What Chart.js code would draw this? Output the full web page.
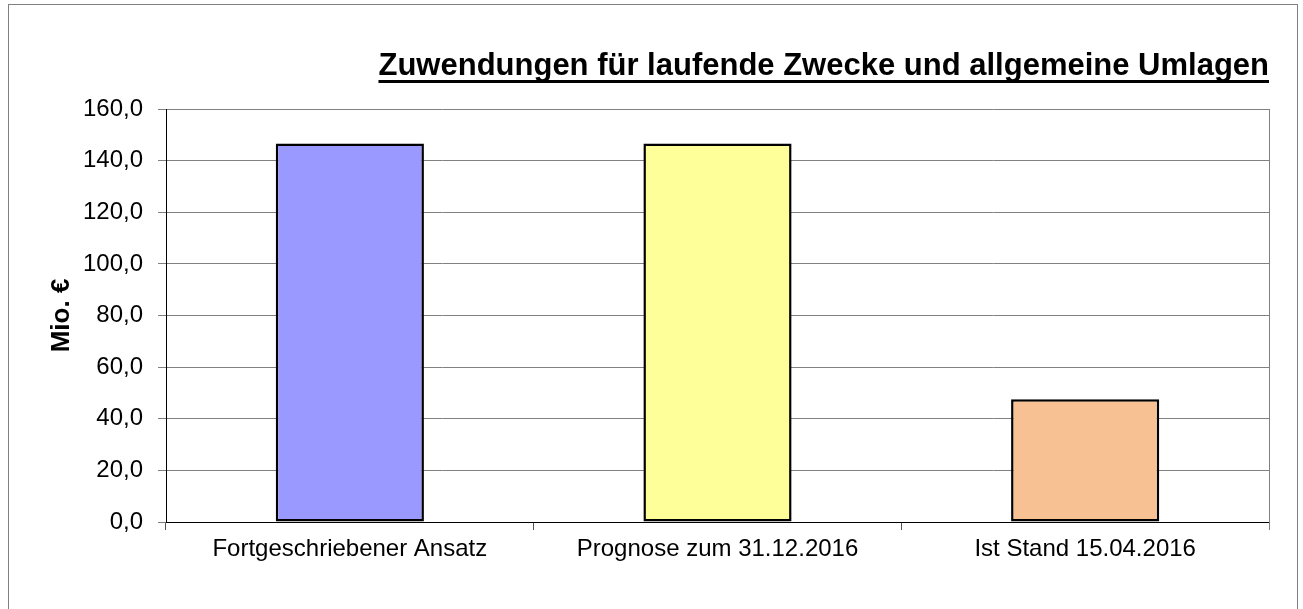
<!DOCTYPE html>
<html>
<head>
<meta charset="utf-8">
<script src="https://cdn.jsdelivr.net/npm/chart.js@4.4.0/dist/chart.umd.min.js"></script>
<style>
    body { margin: 0; background: #fff; }
    canvas { display: block; }
</style>
</head>
<body>
<canvas id="chartBar" width="1303" height="609"></canvas>
<script>
const categories = ['Fortgeschriebener Ansatz', 'Prognose zum 31.12.2016', 'Ist Stand 15.04.2016'];
const values = [146.6, 146.6, 47.6];
const barColors = ['#9999FF', '#FFFF99', '#F8C193'];
const titleText = 'Zuwendungen für laufende Zwecke und allgemeine Umlagen';
const axisTitle = 'Mio. €';

const fontFamily = '"Liberation Sans", Arial, sans-serif';

// Rahmen, rechte Linie der Zeichenfläche und Unterstreichung des Titels
const decorations = {
    id: 'decorations',
    beforeDraw(chart) {
        const ctx = chart.ctx;
        ctx.save();
        ctx.fillStyle = '#fff';
        ctx.fillRect(0, 0, chart.width, chart.height);
        ctx.strokeStyle = '#808080';
        ctx.lineWidth = 1;
        ctx.strokeRect(8.5, 4.5, 1289, 620);
        ctx.restore();
    },
    afterDraw(chart) {
        const ctx = chart.ctx;
        const area = chart.chartArea;
        ctx.save();
        ctx.strokeStyle = '#808080';
        ctx.lineWidth = 1;
        ctx.beginPath();
        ctx.moveTo(Math.round(area.right) + 0.5, area.top);
        ctx.lineTo(Math.round(area.right) + 0.5, area.bottom + 8);
        ctx.stroke();

        const t = chart.titleBlock;
        const f = chart.options.plugins.title.font;
        ctx.font = 'bold ' + f.size + 'px ' + fontFamily;
        const w = ctx.measureText(titleText).width;
        ctx.fillStyle = '#000';
        ctx.fillRect(t.right - w, 80, w, 3);
        ctx.restore();
    }
};

let chartBar = document.getElementById('chartBar');

let oChartBar = new Chart(chartBar, {
    type: 'bar',
    data: {
        labels: categories,
        datasets: [{
            data: values,
            backgroundColor: barColors,
            borderColor: '#000',
            borderWidth: 2.5,
            borderSkipped: false,
            barPercentage: 0.403,
            categoryPercentage: 1
        }]
    },
    options: {
        responsive: false,
        animation: false,
        layout: {
            padding: { left: 0, right: 34, top: 0, bottom: 0 }
        },
        plugins: {
            legend: { display: false },
            tooltip: { enabled: false },
            title: {
                display: true,
                text: titleText,
                align: 'end',
                color: '#000',
                font: { family: fontFamily, size: 31, weight: 'bold', lineHeight: 1.2 },
                padding: { top: 48, bottom: 23.8 }
            }
        },
        scales: {
            x: {
                afterFit(scale) { scale.height = 87; },
                grid: {
                    display: true,
                    offset: true,
                    drawOnChartArea: false,
                    drawTicks: true,
                    tickLength: 8,
                    color: '#555'
                },
                border: { color: '#000', width: 1 },
                ticks: {
                    color: '#000',
                    padding: 5,
                    font: { family: fontFamily, size: 24 },
                    maxRotation: 0
                }
            },
            y: {
                min: 0,
                max: 160,
                afterFit(scale) { scale.width = 166; },
                grid: {
                    color: '#808080',
                    lineWidth: 1,
                    tickLength: 8
                },
                border: { color: '#000', width: 1 },
                ticks: {
                    stepSize: 20,
                    color: '#000',
                    padding: 15,
                    font: { family: fontFamily, size: 24 },
                    callback: (v) => v.toFixed(1).replace('.', ',')
                },
                title: {
                    display: true,
                    text: axisTitle,
                    color: '#000',
                    font: { family: fontFamily, size: 26, weight: 'bold' },
                    padding: { top: 46, bottom: 0 }
                }
            }
        }
    },
    plugins: [decorations]
});
</script>
</body>
</html>
